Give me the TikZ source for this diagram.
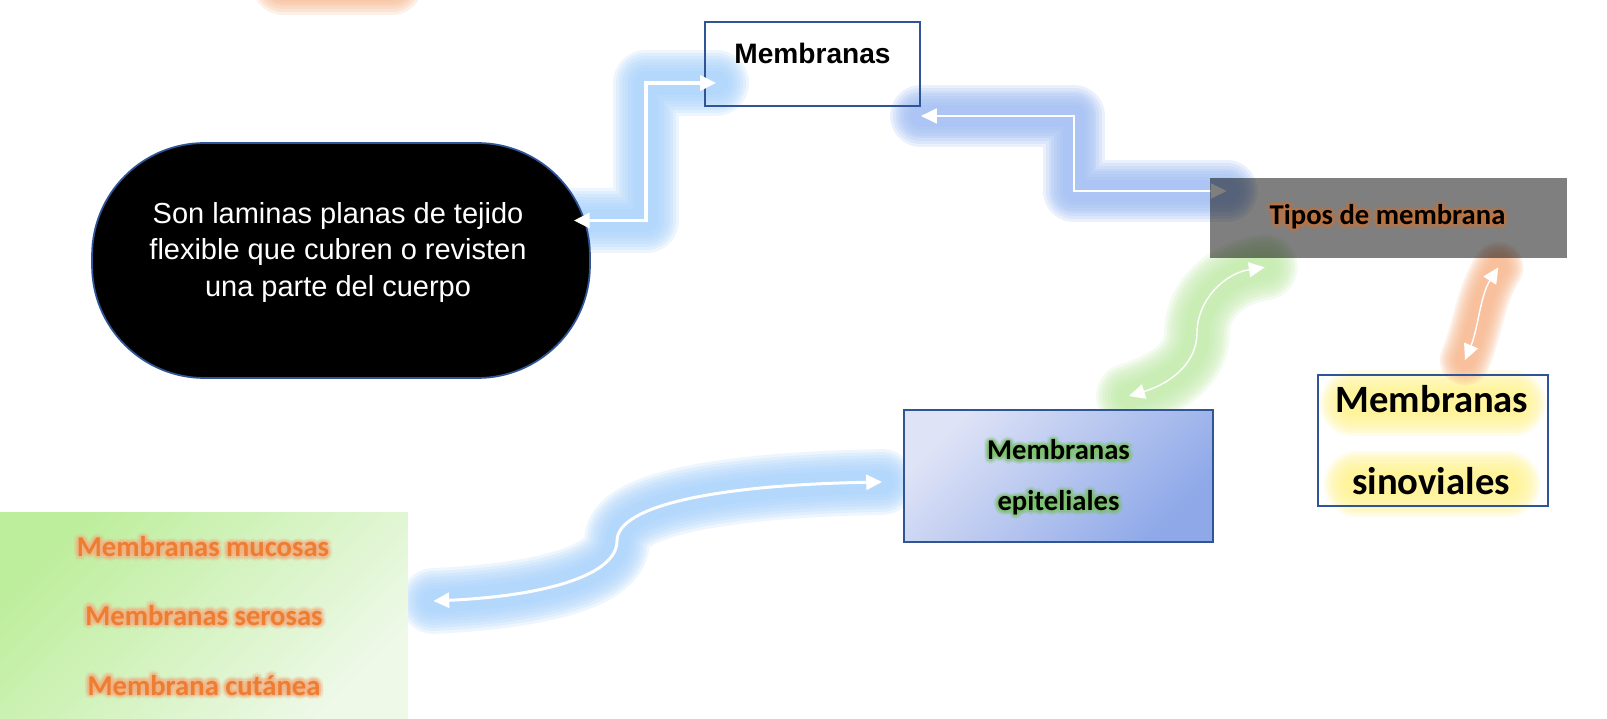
\documentclass[tikz,border=0pt]{standalone}
\usepackage{fontspec}
\setmainfont{Liberation Sans}
\newfontfamily\calibri{Carlito}
\usetikzlibrary{positioning}
\usetikzlibrary{arrows.meta}
\pgfdeclarelayer{back}
\pgfsetlayers{back,main}

\definecolor{boxblue}{HTML}{2F5597}
\definecolor{skyglow}{HTML}{A7D2FC}
\definecolor{cornglow}{HTML}{9CBCF4}
\definecolor{leafglow}{HTML}{C0EBA8}
\definecolor{peachglow}{HTML}{F8B68A}
\definecolor{lemonglow}{HTML}{FFF38A}
\definecolor{membOrange}{HTML}{ED7D31}
\definecolor{tanglow}{HTML}{F4B183}
\definecolor{tiposglow}{HTML}{C4743F}
\definecolor{epiGreen}{HTML}{7CC26A}
\definecolor{lavTop}{HTML}{DEE3F6}
\definecolor{lavBot}{HTML}{8EA8E8}
\definecolor{mintTop}{HTML}{BDEE9C}
\definecolor{mintBot}{HTML}{EEF9E8}

\tikzset{>={Triangle[length=9pt,width=8.5pt]},
        box/.style 2 args={draw=boxblue, line width=1.1pt, minimum width=#1, minimum height=#2, inner sep=0pt},
        epifill/.style={top color=lavTop, bottom color=lavBot, shading angle=45},
        tiposbox/.style={fill=black, fill opacity=.5, minimum width=7.14cm, minimum height=1.6cm, inner sep=0pt},
        kindsbox/.style={top color=mintTop, bottom color=mintBot, shading angle=45, minimum width=8.16cm, minimum height=4.14cm, inner sep=0pt},
        pill/.style={fill=black, draw=boxblue, line width=1pt, rounded corners=2.25cm, minimum width=9.96cm, minimum height=4.7cm},
        lblArial/.style={font=\bfseries\fontsize{16}{19}\selectfont, anchor=base, inner sep=0pt},
        lblCal/.style={font=\calibri\bfseries\fontsize{16.3}{20}\selectfont, anchor=base, inner sep=0pt},
        lblBig/.style={font=\calibri\bfseries\fontsize{22}{26}\selectfont, anchor=base, inner sep=0pt},
        lblOrange/.style={lblCal, text=membOrange},
        defText/.style={text=white, font=\fontsize{16.5}{20.9}\selectfont, align=center, inner sep=0pt},
        conn/.style={draw=white, line width=#1, <->},
        glowpass/.style 2 args={preaction={draw=#1, opacity=.2, line width=#2, line cap=round, line join=round}},
        glow/.style 2 args={glowpass={#1}{2.2*#2}, glowpass={#1}{2*#2}, glowpass={#1}{1.8*#2},
          glowpass={#1}{1.6*#2}, glowpass={#1}{1.4*#2}, glowpass={#1}{1.2*#2},
          glowpass={#1}{#2}, glowpass={#1}{.8*#2}},
}

% text with a soft halo: name, style, position, halo colour, text
\newcommand{\halotext}[5]{%
  \foreach \ang in {0,30,...,330}{
    \node[#2, text=#4, text opacity=.16, shift={(\ang:2.6pt)}] (#1-o\ang) at #3 {#5};
    \node[#2, text=#4, text opacity=.26, shift={(\ang:1.3pt)}] (#1-i\ang) at #3 {#5};
  }
  \node[#2] (#1) at #3 {#5};}

\begin{document}
\begin{tikzpicture}[x=0.02cm, y=-0.02cm]
      \useasboundingbox (0,0) rectangle (1607,719);

      % BOXES
      \node[pill] (defin) at (341,260.5) {};
      \node[box={4.3cm}{1.68cm}] (memb) at (812.5,64) {};
      \node[tiposbox] (tipos) at (1388.5,218) {};
      \node[box={6.18cm}{2.64cm}, epifill] (epit) at (1058.5,476) {};
      \node[box={4.6cm}{2.62cm}] (sinov) at (1433,440.5) {};
      \node[kindsbox] (kinds) at (204,615.5) {};

      % TEXTS
      \node[lblArial] (membText) at (memb.center) {Membranas};
      \node[defText] (definText) at ([shift={(-3,-8)}]defin.center) {Son laminas planas de tejido\\flexible que cubren o revisten\\una parte del cuerpo};
      \halotext{tiposText}{lblCal}{([shift={(-1,7)}]tipos.center)}{tiposglow}{Tipos de membrana}
      \halotext{epitA}{lblCal}{([shift={(0,-16)}]epit.center)}{epiGreen}{Membranas}
      \halotext{epitB}{lblCal}{([shift={(0,35)}]epit.center)}{epiGreen}{epiteliales}
      \node[lblBig] (sinovA) at ([shift={(-1,-27.5)}]sinov.center) {Membranas};
      \node[lblBig] (sinovB) at ([shift={(-2,54.5)}]sinov.center) {sinoviales};
      \halotext{mucosas}{lblOrange}{([shift={(-1,-58.5)}]kinds.center)}{tanglow}{Membranas mucosas}
      \halotext{serosas}{lblOrange}{([shift={(0,9.5)}]kinds.center)}{tanglow}{Membranas serosas}
      \halotext{cutanea}{lblOrange}{([shift={(0,79.5)}]kinds.center)}{tanglow}{Membrana cutánea}

      % CONNECTOR PATHS
      \def\linkDef{([shift={(-17,-40)}]defin.east) -- ++(72,0) |- ([shift={(12,19)}]memb.west)}
      \def\linkTipos{([shift={(0,9)}]memb.south east) -- ++(153,0) |- ([shift={(17,-27)}]tipos.west)}
      \def\linkEpit{([shift={(70.5,-13)}]epit.north) .. controls +(43,-13) and +(0,29) .. (1197,333)
                    .. controls +(0,-33) and +(-40,6) .. ([shift={(55,9)}]tipos.south west)}
      \def\linkSinov{([shift={(32,-14)}]sinov.north) .. controls +(13,-31) and +(-18,28) .. ([shift={(-69,9)}]tipos.south east)}
      \def\linkKinds{([shift={(25,-14.5)}]kinds.east) .. controls +(112,-5) and +(0,34) .. (617,541)
                    .. controls +(0,-36) and +(-163,3) .. ([shift={(-21,6)}]epit.west)}

      % GLOWS (behind everything)
      \begin{pgfonlayer}{back}
        \fill[white] (0,0) rectangle (1607,719);
        \path[glow={peachglow}{16pt}] (283,-16) -- (392,-16);
        \path[glow={lemonglow}{17pt}] ([shift={(-80,-37.5)}]sinov.center) -- ([shift={(80,-37.5)}]sinov.center);
        \path[glow={lemonglow}{17pt}] ([shift={(-76,43.5)}]sinov.center) -- ([shift={(74,43.5)}]sinov.center);
        \path[glow={skyglow}{17pt}] \linkDef;
        \path[glow={cornglow}{16pt}] \linkTipos;
        \draw[conn=1pt] \linkTipos;
        \path[glow={leafglow}{17pt}] \linkEpit;
        \path[glow={peachglow}{13pt}] \linkSinov;
        \path[glow={skyglow}{17pt}] \linkKinds;
      \end{pgfonlayer}

      % WIRES
      \draw[conn=1.9pt] \linkDef;
      \draw[conn=.8pt] \linkEpit;
      \draw[conn=.8pt] \linkSinov;
      \draw[conn=1.7pt] \linkKinds;
\end{tikzpicture}
\end{document}
